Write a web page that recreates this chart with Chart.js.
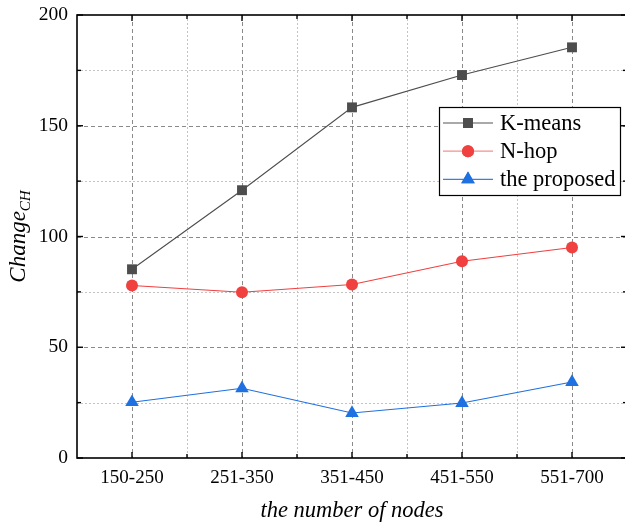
<!DOCTYPE html>
<html>
<head>
<meta charset="utf-8">
<script src="https://cdn.jsdelivr.net/npm/chart.js@4/dist/chart.umd.min.js"></script>
<style>
  html, body { margin: 0; padding: 0; background: #fff; overflow: hidden; }
  #wrap { width: 640px; height: 529px; position: relative; }
</style>
</head>
<body>
<div id="wrap"><canvas id="c"></canvas></div>
<script>
const categories = ['150-250', '251-350', '351-450', '451-550', '551-700'];
const kmeansValues = [85.2, 120.9, 158.3, 172.9, 185.4];
const nhopValues = [77.9, 74.8, 78.3, 88.8, 95.0];
const proposedValues = [25.2, 31.5, 20.3, 24.8, 34.3];
const seriesNames = ['K-means', 'N-hop', 'the proposed'];
const yTickValues = [0, 50, 100, 150, 200];
const yMinorValues = [25, 75, 125, 175];

const SERIF = '"Liberation Serif", "Times New Roman", serif';

const framePlugin = {
  id: 'frame',
  beforeDatasetsDraw(chart) {
    const ctx = chart.ctx;
    const a = chart.chartArea;
    const xs = chart.scales.x, ys = chart.scales.y;
    ctx.save();
    ctx.lineWidth = 1;
    yTickValues.forEach(v => {
      if (v === 0 || v === 200) return;
      const y = Math.round(ys.getPixelForValue(v)) + 0.5;
      ctx.strokeStyle = '#8a8a8a'; ctx.setLineDash([4, 3]);
      ctx.beginPath(); ctx.moveTo(a.left, y); ctx.lineTo(a.right, y); ctx.stroke();
    });
    yMinorValues.forEach(v => {
      const y = Math.round(ys.getPixelForValue(v)) + 0.5;
      ctx.strokeStyle = '#c4c4c4'; ctx.setLineDash([2, 2]);
      ctx.beginPath(); ctx.moveTo(a.left, y); ctx.lineTo(a.right, y); ctx.stroke();
    });
    categories.forEach((c, i) => {
      const x = Math.round(xs.getPixelForValue(i)) + 0.5;
      ctx.strokeStyle = '#8a8a8a'; ctx.setLineDash([4, 3]);
      ctx.beginPath(); ctx.moveTo(x, a.top); ctx.lineTo(x, a.bottom); ctx.stroke();
      if (i < categories.length - 1) {
        const xm = Math.round((xs.getPixelForValue(i) + xs.getPixelForValue(i + 1)) / 2) + 0.5;
        ctx.strokeStyle = '#c4c4c4'; ctx.setLineDash([2, 2]);
        ctx.beginPath(); ctx.moveTo(xm, a.top); ctx.lineTo(xm, a.bottom); ctx.stroke();
      }
    });
    ctx.setLineDash([]);
    ctx.strokeStyle = '#000'; ctx.lineWidth = 1.6;
    ctx.strokeRect(a.left, a.top, a.right - a.left, a.bottom - a.top);
    ctx.lineWidth = 1.4;
    const tickY = (v, len) => {
      const y = ys.getPixelForValue(v);
      ctx.beginPath(); ctx.moveTo(a.left, y); ctx.lineTo(a.left + len, y); ctx.stroke();
      ctx.beginPath(); ctx.moveTo(a.right, y); ctx.lineTo(a.right - len, y); ctx.stroke();
    };
    yTickValues.forEach(v => tickY(v, 6));
    yMinorValues.forEach(v => tickY(v, 4));
    const tickX = (x, len) => {
      ctx.beginPath(); ctx.moveTo(x, a.bottom); ctx.lineTo(x, a.bottom - len); ctx.stroke();
      ctx.beginPath(); ctx.moveTo(x, a.top); ctx.lineTo(x, a.top + len); ctx.stroke();
    };
    categories.forEach((c, i) => {
      tickX(xs.getPixelForValue(i), 6);
      if (i < categories.length - 1) tickX((xs.getPixelForValue(i) + xs.getPixelForValue(i + 1)) / 2, 4);
    });
    ctx.restore();
  },
  afterDatasetsDraw(chart) {
    const ctx = chart.ctx;
    const a = chart.chartArea;
    ctx.save();
    const cy = (a.top + a.bottom) / 2;
    ctx.translate(25, cy);
    ctx.rotate(-Math.PI / 2);
    ctx.fillStyle = '#000';
    ctx.textBaseline = 'alphabetic';
    const mainFont = 'italic 23px ' + SERIF;
    const subFont = 'italic 15px ' + SERIF;
    ctx.font = mainFont; const w1 = ctx.measureText('Change').width;
    ctx.font = subFont; const w2 = ctx.measureText('CH').width;
    const x0 = -(w1 + w2) / 2;
    ctx.font = mainFont; ctx.fillText('Change', x0, 0);
    ctx.font = subFont; ctx.fillText('CH', x0 + w1, 5);
    ctx.restore();

    ctx.save();
    const lx = 439, ly = 107, lw = 181, lh = 88;
    ctx.fillStyle = '#fff';
    ctx.fillRect(lx, ly, lw, lh);
    ctx.strokeStyle = '#000'; ctx.lineWidth = 1.2;
    ctx.strokeRect(lx + 0.5, ly + 0.5, lw, lh);
    chart.data.datasets.forEach((ds, i) => {
      const y = ly + 16 + i * 28.2;
      ctx.strokeStyle = ds.legendLineColor || ds.borderColor;
      ctx.lineWidth = 1.2;
      ctx.beginPath(); ctx.moveTo(lx + 4, y); ctx.lineTo(lx + 54, y); ctx.stroke();
      ctx.fillStyle = ds.pointBackgroundColor;
      Chart.helpers.drawPoint(ctx, {
        pointStyle: ds.pointStyle, radius: ds.pointRadius, borderWidth: 0, rotation: 0
      }, lx + 29, y);
      ctx.fill();
      ctx.fillStyle = '#000';
      ctx.font = '22.5px ' + SERIF;
      ctx.textBaseline = 'middle';
      ctx.fillText(ds.label, lx + 61, y + 1);
    });
    ctx.restore();
  }
};

const chart = new Chart(document.getElementById('c'), {
  type: 'line',
  data: {
    labels: categories,
    datasets: [
      {
        label: seriesNames[0], data: kmeansValues,
        borderColor: '#4d4d4d', backgroundColor: '#4d4d4d',
        pointBackgroundColor: '#4d4d4d', pointBorderColor: '#4d4d4d',
        pointStyle: 'rect', pointRadius: 7, pointBorderWidth: 0, borderWidth: 1.1,
        legendLineColor: '#555'
      },
      {
        label: seriesNames[1], data: nhopValues,
        borderColor: '#f04040', backgroundColor: '#f04040',
        pointBackgroundColor: '#f04040', pointBorderColor: '#f04040',
        pointStyle: 'circle', pointRadius: 6, pointBorderWidth: 0, borderWidth: 1.1,
        legendLineColor: '#f59090'
      },
      {
        label: seriesNames[2], data: proposedValues,
        borderColor: '#1f70e0', backgroundColor: '#1f70e0',
        pointBackgroundColor: '#1f70e0', pointBorderColor: '#1f70e0',
        pointStyle: 'triangle', pointRadius: 7.8, pointBorderWidth: 0, borderWidth: 1.1,
        legendLineColor: '#3a80e0'
      }
    ]
  },
  options: {
    responsive: true,
    maintainAspectRatio: false,
    animation: false,
    devicePixelRatio: 1,
    layout: { padding: { left: 0, top: 15, right: 13, bottom: 0 } },
    plugins: { legend: { display: false }, tooltip: { enabled: false } },
    elements: { line: { tension: 0 } },
    scales: {
      x: {
        type: 'category',
        offset: true,
        grid: { display: false, drawTicks: false },
        border: { display: false },
        ticks: { color: '#000', font: { family: SERIF, size: 19 }, padding: 9, maxRotation: 0, autoSkip: false },
        title: { display: true, text: 'the number of nodes', color: '#000',
                 font: { family: SERIF, size: 22.5, style: 'italic' }, padding: { top: 21 } },
        afterFit(s) { s.height = 71; s.paddingLeft = 0; s.paddingRight = 0; }
      },
      y: {
        min: 0, max: 200,
        grid: { display: false, drawTicks: false },
        border: { display: false },
        ticks: { stepSize: 50, color: '#000', font: { family: SERIF, size: 19.5 }, padding: 9 },
        afterFit(s) { s.width = 77; s.paddingTop = 0; s.paddingBottom = 0; }
      }
    }
  },
  plugins: [framePlugin]
});
</script>
</body>
</html>
